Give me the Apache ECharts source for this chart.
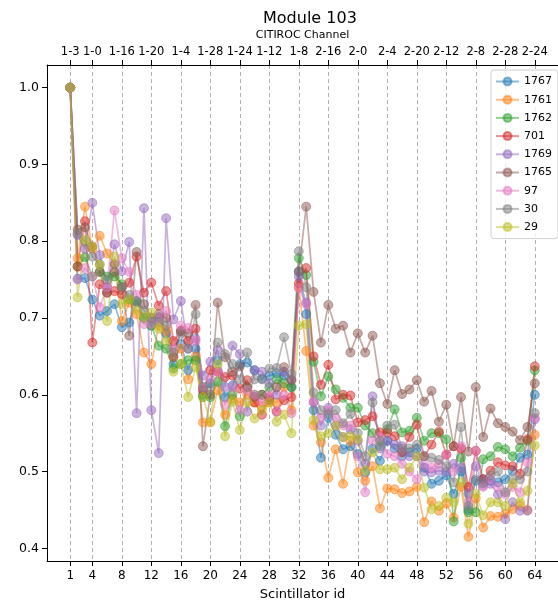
<!DOCTYPE html>
<html>
<head>
<meta charset="utf-8">
<script src="https://cdn.jsdelivr.net/npm/echarts@6/dist/echarts.min.js"></script>
<style>
html,body{margin:0;padding:0;background:#fff;}
#chart{width:558px;height:606px;}
</style>
</head>
<body>
<div id="chart"></div>
<script>
// ---- data ----
const tickIds = [1, 4, 8, 12, 16, 20, 24, 28, 32, 36, 40, 44, 48, 52, 56, 60, 64];
const channelLabels = ['1-3','1-0','1-16','1-20','1-4','1-28','1-24','1-12','1-8','2-16','2-0','2-4','2-20','2-12','2-8','2-28','2-24'];
const yTicks = [0.4, 0.5, 0.6, 0.7, 0.8, 0.9, 1.0];
const seriesNames = ['1767','1761','1762','701','1769','1765','97','30','29'];

const s1767 = [1.0,0.751,0.752,0.724,0.703,0.709,0.718,0.688,0.694,0.722,0.700,0.690,0.701,0.680,0.640,0.666,0.632,0.660,0.600,0.615,0.645,0.597,0.612,0.640,0.642,0.632,0.621,0.625,0.628,0.625,0.610,0.760,0.705,0.580,0.518,0.570,0.548,0.529,0.533,0.523,0.499,0.530,0.514,0.540,0.530,0.520,0.525,0.530,0.505,0.484,0.488,0.495,0.471,0.500,0.450,0.488,0.490,0.488,0.486,0.490,0.501,0.518,0.522,0.600];
const s1761 = [1.0,0.778,0.845,0.790,0.807,0.784,0.770,0.696,0.720,0.705,0.655,0.640,0.690,0.683,0.650,0.660,0.620,0.650,0.564,0.564,0.606,0.574,0.595,0.590,0.600,0.590,0.585,0.590,0.590,0.610,0.580,0.740,0.657,0.560,0.538,0.492,0.529,0.484,0.540,0.499,0.488,0.507,0.452,0.478,0.477,0.472,0.474,0.480,0.434,0.461,0.449,0.458,0.440,0.480,0.415,0.465,0.427,0.442,0.441,0.445,0.451,0.456,0.450,0.548];
const s1762 = [1.0,0.767,0.779,0.754,0.760,0.754,0.754,0.744,0.724,0.722,0.700,0.690,0.664,0.660,0.634,0.640,0.645,0.645,0.597,0.597,0.617,0.559,0.600,0.572,0.610,0.600,0.600,0.610,0.620,0.615,0.610,0.778,0.756,0.643,0.598,0.624,0.607,0.596,0.583,0.583,0.560,0.550,0.533,0.555,0.581,0.551,0.553,0.570,0.540,0.550,0.550,0.542,0.435,0.518,0.447,0.447,0.516,0.520,0.532,0.529,0.520,0.531,0.540,0.632];
const s701 = [1.0,0.767,0.826,0.668,0.744,0.733,0.735,0.731,0.746,0.780,0.733,0.746,0.716,0.735,0.670,0.683,0.670,0.686,0.606,0.632,0.630,0.623,0.625,0.608,0.619,0.590,0.574,0.597,0.578,0.593,0.597,0.745,0.765,0.650,0.613,0.639,0.594,0.600,0.599,0.564,0.567,0.572,0.551,0.551,0.546,0.525,0.545,0.561,0.520,0.535,0.552,0.522,0.533,0.530,0.480,0.527,0.490,0.501,0.512,0.508,0.507,0.497,0.542,0.637];
const s1769 = [1.0,0.808,0.790,0.850,0.782,0.740,0.796,0.761,0.799,0.576,0.843,0.580,0.524,0.830,0.698,0.722,0.660,0.673,0.625,0.643,0.658,0.610,0.664,0.653,0.578,0.632,0.630,0.615,0.600,0.630,0.620,0.754,0.720,0.590,0.560,0.583,0.560,0.545,0.555,0.540,0.510,0.598,0.530,0.540,0.535,0.533,0.520,0.520,0.500,0.499,0.501,0.500,0.510,0.505,0.471,0.507,0.482,0.484,0.470,0.438,0.460,0.449,0.449,0.568];
const s1765 = [1.0,0.815,0.818,0.793,0.760,0.733,0.760,0.740,0.677,0.786,0.718,0.700,0.705,0.700,0.649,0.683,0.680,0.717,0.533,0.600,0.720,0.649,0.630,0.637,0.610,0.597,0.600,0.593,0.610,0.636,0.619,0.761,0.845,0.734,0.668,0.717,0.686,0.690,0.655,0.680,0.655,0.677,0.615,0.588,0.632,0.601,0.607,0.619,0.591,0.605,0.565,0.587,0.533,0.597,0.526,0.610,0.545,0.582,0.563,0.558,0.552,0.541,0.558,0.615];
const s97 = [1.0,0.750,0.765,0.754,0.714,0.740,0.840,0.778,0.760,0.730,0.692,0.692,0.700,0.709,0.660,0.690,0.687,0.670,0.610,0.620,0.630,0.587,0.610,0.580,0.606,0.600,0.590,0.600,0.578,0.600,0.576,0.739,0.718,0.591,0.570,0.580,0.570,0.560,0.560,0.520,0.473,0.540,0.545,0.523,0.520,0.510,0.500,0.490,0.510,0.505,0.510,0.522,0.500,0.533,0.460,0.527,0.480,0.490,0.480,0.470,0.480,0.473,0.512,0.570];
const s30 = [1.0,0.810,0.800,0.780,0.770,0.750,0.770,0.740,0.730,0.720,0.710,0.700,0.695,0.690,0.655,0.680,0.660,0.705,0.610,0.610,0.668,0.653,0.640,0.620,0.655,0.620,0.620,0.634,0.635,0.675,0.627,0.787,0.740,0.603,0.580,0.575,0.580,0.563,0.575,0.550,0.520,0.590,0.540,0.560,0.561,0.530,0.530,0.535,0.520,0.518,0.515,0.507,0.486,0.558,0.455,0.490,0.485,0.495,0.500,0.473,0.490,0.490,0.500,0.576];
const s29 = [1.0,0.727,0.802,0.793,0.769,0.696,0.780,0.718,0.724,0.710,0.701,0.707,0.686,0.670,0.630,0.640,0.597,0.636,0.597,0.565,0.640,0.546,0.591,0.554,0.590,0.569,0.580,0.590,0.565,0.574,0.550,0.690,0.692,0.567,0.546,0.550,0.560,0.545,0.546,0.542,0.501,0.525,0.503,0.503,0.505,0.490,0.505,0.520,0.479,0.451,0.455,0.466,0.460,0.486,0.432,0.471,0.443,0.460,0.460,0.455,0.484,0.460,0.475,0.534];

const seriesValues = [s1767, s1761, s1762, s701, s1769, s1765, s97, s30, s29];
const colors = ['#1f77b4','#ff7f0e','#2ca02c','#d62728','#9467bd','#8c564b','#e377c2','#7f7f7f','#bcbd22'];

// ---- chart ----
const FONT = 'DejaVu Sans';
const chart = echarts.init(document.getElementById('chart'), null, {renderer: 'canvas'});

const series = seriesNames.map((name, k) => ({
  name: name,
  type: 'line',
  xAxisIndex: 0,
  yAxisIndex: 0,
  data: seriesValues[k].map((v, i) => [i + 1, v]),
  symbol: 'circle',
  symbolSize: 9,
  showSymbol: true,
  animation: false,
  color: colors[k],
  lineStyle: {width: 1.7, color: colors[k], opacity: 0.5},
  itemStyle: {color: colors[k], opacity: 0.5, borderColor: colors[k], borderWidth: 1},
  emphasis: {disabled: true}
}));

const xMin = -2.15, xMax = 67.15;

chart.setOption({
  animation: false,
  backgroundColor: '#fff',
  textStyle: {fontFamily: FONT},
  title: {
    text: 'Module 103',
    left: 258,
    top: 6,
    textStyle: {fontFamily: FONT, fontSize: 16, fontWeight: 'normal', color: '#000'}
  },
  grid: {left: 47, top: 65, width: 518, height: 501, containLabel: false},
  legend: {
    data: seriesNames,
    orient: 'vertical',
    left: 491,
    top: 70,
    itemWidth: 23,
    itemHeight: 10,
    itemGap: 7.2,
    padding: [6, 6, 6, 4],
    backgroundColor: 'rgba(255,255,255,0.8)',
    borderColor: '#d0d0d0',
    borderWidth: 1,
    borderRadius: 3,
    textStyle: {fontFamily: FONT, fontSize: 11, color: '#000'}
  },
  xAxis: [
    {
      type: 'value',
      position: 'bottom',
      min: xMin, max: xMax,
      name: 'Scintillator id',
      nameLocation: 'middle',
      nameGap: 27,
      nameTextStyle: {fontFamily: FONT, fontSize: 13, color: '#000'},
      axisLine: {show: true, onZero: false, lineStyle: {color: '#000', width: 1}},
      axisTick: {show: true, length: 5, customValues: tickIds, lineStyle: {color: '#000'}},
      axisLabel: {customValues: tickIds, margin: 9, fontFamily: FONT, fontSize: 12, color: '#000'},
      splitLine: {show: true, lineStyle: {color: '#a8a8a8', type: [4, 3], width: 0.9}}
    },
    {
      type: 'value',
      position: 'top',
      min: xMin, max: xMax,
      name: 'CITIROC Channel',
      nameLocation: 'middle',
      nameGap: 24,
      nameTextStyle: {fontFamily: FONT, fontSize: 11, color: '#000'},
      axisLine: {show: true, onZero: false, lineStyle: {color: '#000', width: 1}},
      axisTick: {show: true, length: 5, customValues: tickIds, lineStyle: {color: '#000'}},
      axisLabel: {
        customValues: tickIds, margin: 7, fontFamily: FONT, fontSize: 11.5, color: '#000',
        formatter: v => channelLabels[tickIds.indexOf(Math.round(v))] || ''
      },
      splitLine: {show: false}
    }
  ],
  yAxis: {
    type: 'value',
    min: 0.3835, max: 1.0295,
    axisLine: {show: true, onZero: false, lineStyle: {color: '#000', width: 1}},
    axisTick: {show: true, length: 5, customValues: yTicks, lineStyle: {color: '#000'}},
    axisLabel: {customValues: yTicks, margin: 8, fontFamily: FONT, fontSize: 12.5, color: '#000',
      formatter: v => v.toFixed(1)},
    splitLine: {show: false}
  },
  series: series
});
</script>
</body>
</html>
